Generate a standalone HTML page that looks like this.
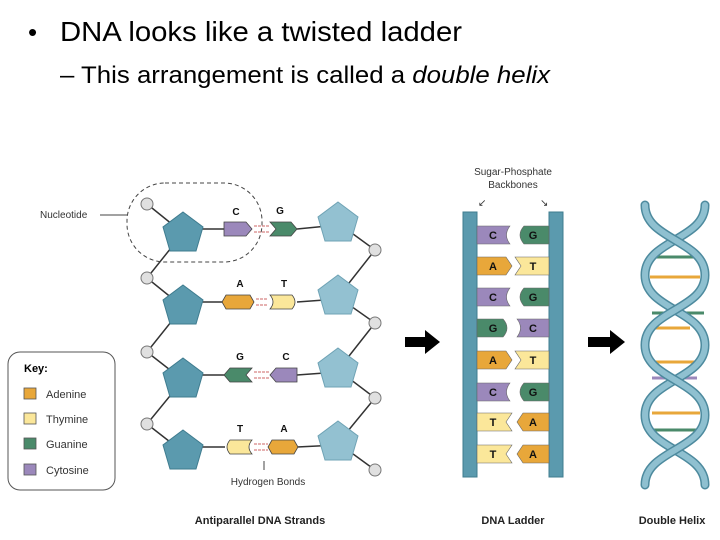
<!DOCTYPE html>
<html><head><style>
body{margin:0;background:#fff;}
svg{display:block}
</style></head><body>
<svg width="720" height="540" viewBox="0 0 720 540" xmlns="http://www.w3.org/2000/svg" font-family="Liberation Sans, sans-serif">
<rect width="720" height="540" fill="#fff"/>
<text x="28" y="41" font-size="26" fill="#000">•</text>
<text x="60" y="41" font-size="28" fill="#000" textLength="402" lengthAdjust="spacingAndGlyphs">DNA looks like a twisted ladder</text>
<text x="60" y="83" font-size="24" fill="#000" textLength="490" lengthAdjust="spacingAndGlyphs">– This arrangement is called a <tspan font-style="italic">double helix</tspan></text>

<g stroke="#333" stroke-width="1.5" fill="none">
<polyline points="147,204 183,233 147,278 183,307 147,352 183,380 147,424 183,452"/>
<polyline points="338,223 375,250 338,297 375,323 338,370 375,398 338,443 375,470"/>
<line x1="183" y1="229" x2="225" y2="229"/><line x1="297" y1="229" x2="338" y2="225"/>
<line x1="183" y1="302" x2="225" y2="302"/><line x1="297" y1="302" x2="338" y2="299"/>
<line x1="183" y1="375" x2="225" y2="375"/><line x1="297" y1="375" x2="338" y2="372"/>
<line x1="183" y1="447" x2="225" y2="447"/><line x1="297" y1="447" x2="338" y2="445"/>
</g>
<rect x="127" y="183" width="135" height="79" rx="38" fill="none" stroke="#444" stroke-dasharray="4,3"/>
<line x1="100" y1="215" x2="127" y2="215" stroke="#444"/>
<text x="40" y="218" font-size="10" fill="#333">Nucleotide</text>

<g fill="#5b9aae" stroke="#3f7c8f">
<polygon points="183,212 203,227 196,251 170,251 163,227"/>
<polygon points="183,285 203,300 196,324 170,324 163,300"/>
<polygon points="183,358 203,373 196,397 170,397 163,373"/>
<polygon points="183,430 203,445 196,469 170,469 163,445"/>
</g>
<g fill="#93c1d1" stroke="#6fa3b5">
<polygon points="338,202 358,217 351,241 325,241 318,217"/>
<polygon points="338,275 358,290 351,314 325,314 318,290"/>
<polygon points="338,348 358,363 351,387 325,387 318,363"/>
<polygon points="338,421 358,436 351,460 325,460 318,436"/>
</g>
<g fill="#e0e0e0" stroke="#777">
<circle cx="147" cy="204" r="6"/><circle cx="147" cy="278" r="6"/><circle cx="147" cy="352" r="6"/><circle cx="147" cy="424" r="6"/>
<circle cx="375" cy="250" r="6"/><circle cx="375" cy="323" r="6"/><circle cx="375" cy="398" r="6"/><circle cx="375" cy="470" r="6"/>
</g>
<g stroke="#444" stroke-width="0.8">
<polygon points="224,222 246,222 252,229 246,236 224,236" fill="#9b88bb"/>
<polygon points="270,222 291,222 297,229 291,236 270,236 276,229" fill="#4a8a6a"/>
<polygon points="226,295 250,295 254,302 250,309 226,309 222,302" fill="#e8a73a"/>
<path d="M270,295 H292 Q298,302 292,309 H270 Q276,302 270,295Z" fill="#fbe79a"/>
<polygon points="230,368 252,368 246,375 252,382 230,382 224,375" fill="#4a8a6a"/>
<polygon points="276,368 297,368 297,382 276,382 270,375" fill="#9b88bb"/>
<path d="M230,440 H252 Q246,447 252,454 H230 Q224,447 230,440Z" fill="#fbe79a"/>
<polygon points="272,440 294,440 298,447 294,454 272,454 268,447" fill="#e8a73a"/>
</g>
<g stroke="#c66" stroke-dasharray="3,1" stroke-width="1">
<line x1="254" y1="226" x2="270" y2="226"/><line x1="254" y1="232" x2="270" y2="232"/>
<line x1="256" y1="299" x2="268" y2="299"/><line x1="256" y1="305" x2="268" y2="305"/>
<line x1="254" y1="372" x2="270" y2="372"/><line x1="254" y1="378" x2="270" y2="378"/>
<line x1="254" y1="444" x2="268" y2="444"/><line x1="254" y1="450" x2="268" y2="450"/>
</g>
<g font-size="10" font-weight="bold" text-anchor="middle" fill="#111">
<text x="236" y="215">C</text><text x="280" y="214">G</text>
<text x="240" y="287">A</text><text x="284" y="287">T</text>
<text x="240" y="360">G</text><text x="286" y="360">C</text>
<text x="240" y="432">T</text><text x="284" y="432">A</text>
</g>
<line x1="264" y1="461" x2="264" y2="470" stroke="#444"/>
<text x="268" y="485" font-size="10" text-anchor="middle" fill="#333">Hydrogen Bonds</text>

<rect x="8" y="352" width="107" height="138" rx="12" fill="#fff" stroke="#555"/>
<text x="24" y="372" font-size="11" font-weight="bold">Key:</text>
<g stroke="#555" stroke-width="0.8">
<rect x="24" y="388" width="12" height="11" fill="#e8a73a"/>
<rect x="24" y="413" width="12" height="11" fill="#fbe79a"/>
<rect x="24" y="438" width="12" height="11" fill="#4a8a6a"/>
<rect x="24" y="464" width="12" height="11" fill="#9b88bb"/>
</g>
<g font-size="11" fill="#333">
<text x="46" y="398">Adenine</text><text x="46" y="423">Thymine</text><text x="46" y="448">Guanine</text><text x="46" y="474">Cytosine</text>
</g>

<polygon points="405,337 425,337 425,330 440,342 425,354 425,347 405,347" fill="#000"/>
<polygon points="588,337 610,337 610,330 625,342 610,354 610,347 588,347" fill="#000"/>

<text x="513" y="175" font-size="10" text-anchor="middle" fill="#333">Sugar-Phosphate</text>
<text x="513" y="188" font-size="10" text-anchor="middle" fill="#333">Backbones</text>
<text x="478" y="206" font-size="10" fill="#333">↙</text><text x="540" y="206" font-size="10" fill="#333">↘</text>
<rect x="463" y="212" width="14" height="265" fill="#5b9aae" stroke="#3f7c8f"/>
<rect x="549" y="212" width="14" height="265" fill="#5b9aae" stroke="#3f7c8f"/>
<g stroke="#666" stroke-width="0.6">
<path d="M477,226 H510 Q503,235 510,244 H477Z" fill="#9b88bb"/><path d="M549,226 H524 Q516,235 524,244 H549Z" fill="#4a8a6a"/>
<polygon points="477,257 506,257 512,266 506,275 477,275" fill="#e8a73a"/><polygon points="549,257 515,257 521,266 515,275 549,275" fill="#fbe79a"/>
<path d="M477,288 H510 Q503,297 510,306 H477Z" fill="#9b88bb"/><path d="M549,288 H524 Q516,297 524,306 H549Z" fill="#4a8a6a"/>
<path d="M477,319 H503 Q511,328 503,337 H477Z" fill="#4a8a6a"/><path d="M549,319 H517 Q524,328 517,337 H549Z" fill="#9b88bb"/>
<polygon points="477,351 506,351 512,360 506,369 477,369" fill="#e8a73a"/><polygon points="549,351 515,351 521,360 515,369 549,369" fill="#fbe79a"/>
<path d="M477,383 H510 Q503,392 510,401 H477Z" fill="#9b88bb"/><path d="M549,383 H524 Q516,392 524,401 H549Z" fill="#4a8a6a"/>
<polygon points="477,413 512,413 506,422 512,431 477,431" fill="#fbe79a"/><polygon points="549,413 523,413 517,422 523,431 549,431" fill="#e8a73a"/>
<polygon points="477,445 512,445 506,454 512,463 477,463" fill="#fbe79a"/><polygon points="549,445 523,445 517,454 523,463 549,463" fill="#e8a73a"/>
</g>
<g font-size="11" font-weight="bold" text-anchor="middle" fill="#111">
<text x="493" y="239">C</text><text x="533" y="239">G</text>
<text x="493" y="270">A</text><text x="533" y="270">T</text>
<text x="493" y="301">C</text><text x="533" y="301">G</text>
<text x="493" y="332">G</text><text x="533" y="332">C</text>
<text x="493" y="364">A</text><text x="533" y="364">T</text>
<text x="493" y="396">C</text><text x="533" y="396">G</text>
<text x="493" y="426">T</text><text x="533" y="426">A</text>
<text x="493" y="458">T</text><text x="533" y="458">A</text>
</g>

<g stroke-width="3">
<line x1="652" y1="257" x2="698" y2="257" stroke="#4a8a6a"/><line x1="650" y1="277" x2="700" y2="277" stroke="#e8a73a"/>
<line x1="652" y1="313" x2="704" y2="313" stroke="#4a8a6a"/><line x1="648" y1="328" x2="690" y2="328" stroke="#e8a73a"/>
<line x1="652" y1="362" x2="697" y2="362" stroke="#e8a73a"/><line x1="652" y1="378" x2="697" y2="378" stroke="#9b88bb"/>
<line x1="652" y1="413" x2="700" y2="413" stroke="#e8a73a"/><line x1="652" y1="430" x2="700" y2="430" stroke="#4a8a6a"/>
</g>
<g fill="none" stroke-linecap="round">
<path d="M705,205 C705,240 645,240 645,275 C645,310 705,310 705,345 C705,380 645,380 645,415 C645,450 705,450 705,485" stroke="#4d8a9e" stroke-width="9"/>
<path d="M705,205 C705,240 645,240 645,275 C645,310 705,310 705,345 C705,380 645,380 645,415 C645,450 705,450 705,485" stroke="#8fc0d0" stroke-width="6"/>
<path d="M645,205 C645,240 705,240 705,275 C705,310 645,310 645,345 C645,380 705,380 705,415 C705,450 645,450 645,485" stroke="#4d8a9e" stroke-width="9"/>
<path d="M645,205 C645,240 705,240 705,275 C705,310 645,310 645,345 C645,380 705,380 705,415 C705,450 645,450 645,485" stroke="#8fc0d0" stroke-width="6"/>
</g>

<g font-size="11" font-weight="bold" text-anchor="middle" fill="#222">
<text x="260" y="524">Antiparallel DNA Strands</text>
<text x="513" y="524">DNA Ladder</text>
<text x="672" y="524">Double Helix</text>
</g>
</svg>
</body></html>
